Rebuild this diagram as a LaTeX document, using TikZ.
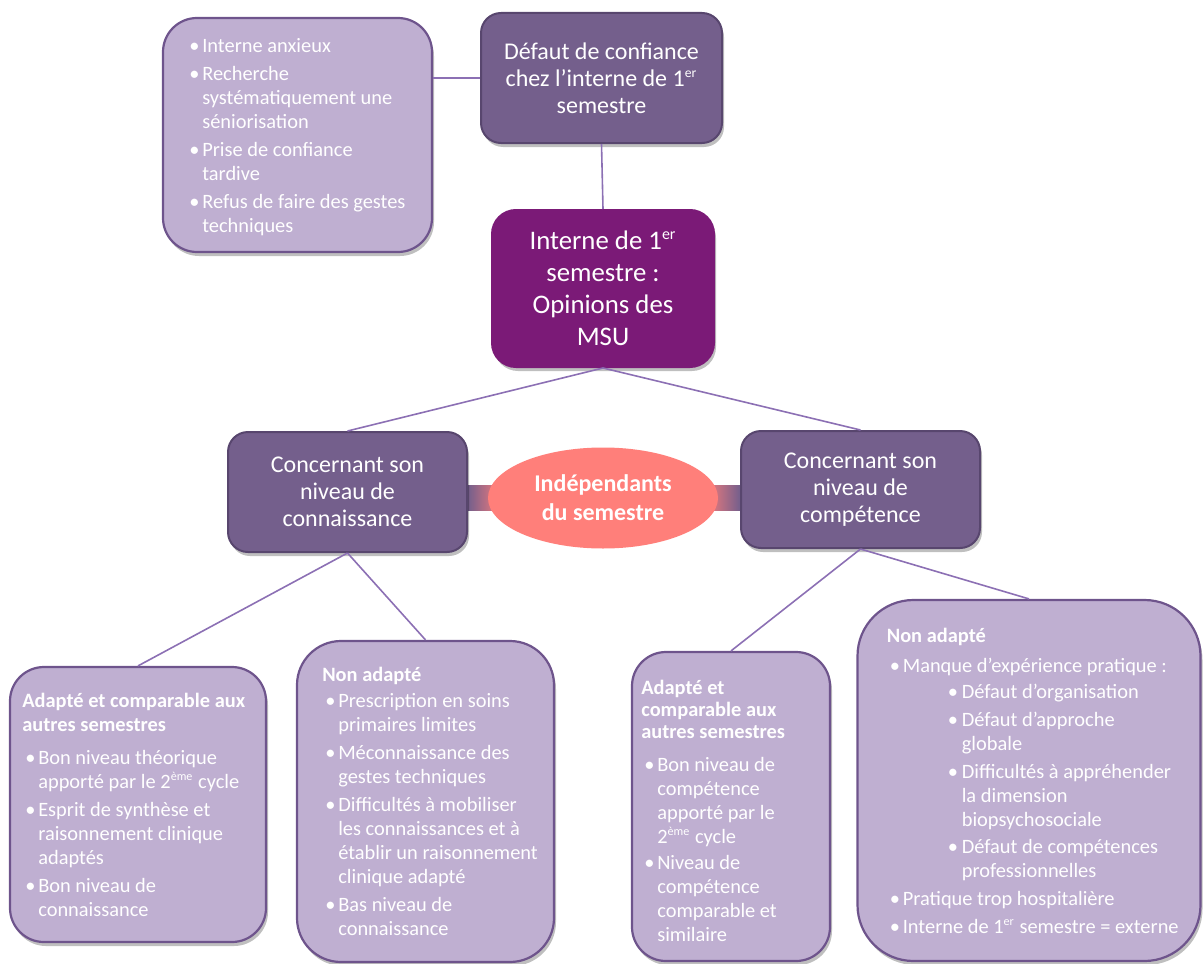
\documentclass[tikz,border=0pt]{standalone}
\usepackage{fontspec}
\setmainfont{Carlito}
\usetikzlibrary{positioning,shapes.geometric,shadows,backgrounds}

\definecolor{cFeuille}{RGB}{191,175,209}
\definecolor{cBordFeuille}{RGB}{110,84,140}
\definecolor{cViolet}{RGB}{116,95,140}
\definecolor{cBordViolet}{RGB}{88,70,110}
\definecolor{cPrune}{RGB}{123,26,119}
\definecolor{cSaumon}{RGB}{255,127,122}
\definecolor{cTrait}{RGB}{140,112,180}

\newcommand\puce{\hspace*{1.5pt}\makebox[6.5pt][l]{\textbullet}}
\newcommand\suite{\hspace*{8pt}}
\newcommand\souspuce{\hspace*{30.5pt}\makebox[7pt][l]{\textbullet}}
\newcommand\soussuite{\hspace*{37.5pt}}
\newcommand\expo[1]{\textsuperscript{\scalebox{0.85}{#1}}}

\begin{document}
\begin{tikzpicture}[
  x=0.5pt, y=-0.5pt,
  lien/.style = {draw=cTrait, line width=0.8pt},
  ombre/.style = {drop shadow={shadow xshift=1pt,shadow yshift=-2pt,opacity=.25,fill=black}},
  feuille/.style = {draw=cBordFeuille, line width=1.1pt, fill=cFeuille, rounded corners=17pt, ombre},
  theme/.style = {draw=cBordViolet, line width=1pt, fill=cViolet, rounded corners=10pt,
    text=white, align=center, inner sep=2pt, font=\fontsize{12}{13.5}\selectfont, ombre},
  texte/.style = {anchor=west, align=left, text=white, inner sep=0pt, font=\fontsize{10.2}{12}\selectfont},
  ]
	\useasboundingbox (0,0) rectangle (1203,963);

	% centre et themes
	\node[theme, minimum width=120.5pt, minimum height=65pt] (dfc) at (601.5,78)
		{D\'efaut de confiance\\chez l’interne de 1\expo{er}\\semestre};
	\node[theme, fill=cPrune, draw=cPrune, rounded corners=12pt, minimum width=111pt, minimum height=78.5pt,
		font=\fontsize{13.4}{16}\selectfont] (msu) at (603,288.5)
		{Interne de 1\expo{er}\\semestre :\\Opinions des\\MSU};
	\node[theme, minimum width=119.5pt, minimum height=60pt] (cl) at (347.5,492)
		{Concernant son\\niveau de\\connaissance};
	\node[theme, minimum width=119.5pt, minimum height=58.5pt] (cr) at (860.5,489.5)
		{Concernant son\\niveau de\\comp\'etence};
	\node[ellipse, fill=cSaumon, text=white, align=center, inner sep=0pt,
		minimum width=115pt, minimum height=50.5pt,
		font=\bfseries\fontsize{12}{14.5}\selectfont] (ind) at (603,498)
		{Ind\'ependants\\du semestre};

	% feuilles
	\node[feuille, minimum width=134.5pt, minimum height=117pt] (anx) at (297.5,135) {};
	\node[texte] (anxtxt) at ([xshift=12pt,yshift=-1pt]anx.west)
		{\puce Interne anxieux\\[2pt]
		 \puce Recherche\\
		 \suite syst\'ematiquement une\\
		 \suite s\'eniorisation\\[2pt]
		 \puce Prise de confiance\\
		 \suite tardive\\[2pt]
		 \puce Refus de faire des gestes\\
		 \suite techniques};

	\node[feuille, minimum width=128pt, minimum height=137.5pt] (b1) at (138,804.5) {};
	\node[texte] (b1txt) at ([xshift=6.5pt]b1.west)
		{\textbf{Adapt\'e et comparable aux}\\
		 \textbf{autres semestres}\\[4.5pt]
		 \puce Bon niveau th\'eorique\\
		 \suite apport\'e par le 2\expo{\`eme} cycle\\[2pt]
		 \puce Esprit de synth\`ese et\\
		 \suite raisonnement clinique\\
		 \suite adapt\'es\\[2pt]
		 \puce Bon niveau de\\
		 \suite connaissance};

	\node[feuille, rounded corners=22pt, minimum width=128.5pt, minimum height=160.5pt] (b2) at (425.5,801.5) {};
	\node[texte] (b2txt) at ([xshift=13pt]b2.west)
		{\textbf{Non adapt\'e}\\[1pt]
		 \puce Prescription en soins\\
		 \suite primaires limites\\[2pt]
		 \puce M\'econnaissance des\\
		 \suite gestes techniques\\[2pt]
		 \puce Difficult\'es \`a mobiliser\\
		 \suite les connaissances et \`a\\
		 \suite \'etablir un raisonnement\\
		 \suite clinique adapt\'e\\[2pt]
		 \puce Bas niveau de\\
		 \suite connaissance};

	\node[feuille, minimum width=99pt, minimum height=154.5pt] (b3) at (731,806.5) {};
	\node[texte] (b3txt) at ([xshift=5pt,yshift=-2pt]b3.west)
		{\textbf{Adapt\'e et}\\[-1pt]
		 \textbf{comparable aux}\\[-1pt]
		 \textbf{autres semestres}\\[4.5pt]
		 \puce Bon niveau de\\
		 \suite comp\'etence\\
		 \suite apport\'e par le\\
		 \suite 2\expo{\`eme} cycle\\[1pt]
		 \puce Niveau de\\
		 \suite comp\'etence\\
		 \suite comparable et\\
		 \suite similaire};

	\node[feuille, rounded corners=28pt, minimum width=171.5pt, minimum height=180.5pt] (b4) at (1029,780.5) {};
	\node[texte] (b4txt) at ([xshift=15pt]b4.west)
		{\textbf{Non adapt\'e}\\[3pt]
		 \puce Manque d’exp\'erience pratique :\\[1pt]
		 \souspuce D\'efaut d’organisation\\[2pt]
		 \souspuce D\'efaut d’approche\\
		 \soussuite globale\\[2pt]
		 \souspuce Difficult\'es \`a appr\'ehender\\
		 \soussuite la dimension\\
		 \soussuite biopsychosociale\\[1.5pt]
		 \souspuce D\'efaut de comp\'etences\\
		 \soussuite professionnelles\\[2pt]
		 \puce Pratique trop hospitali\`ere\\[2pt]
		 \puce Interne de 1\expo{er} semestre = externe};

	% liens
	\draw[lien] (anx.east |- dfc.west) -- (dfc.west);
	\draw[lien] (dfc.south) -- (msu.north);
	\draw[lien] (msu.south) -- (cl.north);
	\draw[lien] (msu.south) -- (cr.north);
	\draw[lien] (cl.south) -- (b1.north);
	\draw[lien] (cl.south) -- (b2.north);
	\draw[lien] (cr.south) -- (b3.north);
	\draw[lien] (cr.south) -- (b4.north);

	\begin{scope}[on background layer]
		\shade[left color=cViolet, right color=cSaumon]
			([yshift=6.25pt]ind.west -| cl.east) rectangle ([xshift=8pt,yshift=-6.25pt]ind.west);
		\shade[left color=cSaumon, right color=cViolet]
			([xshift=-8pt,yshift=6.25pt]ind.east) rectangle ([yshift=-6.25pt]ind.east -| cr.west);
	\end{scope}

\end{tikzpicture}
\end{document}
